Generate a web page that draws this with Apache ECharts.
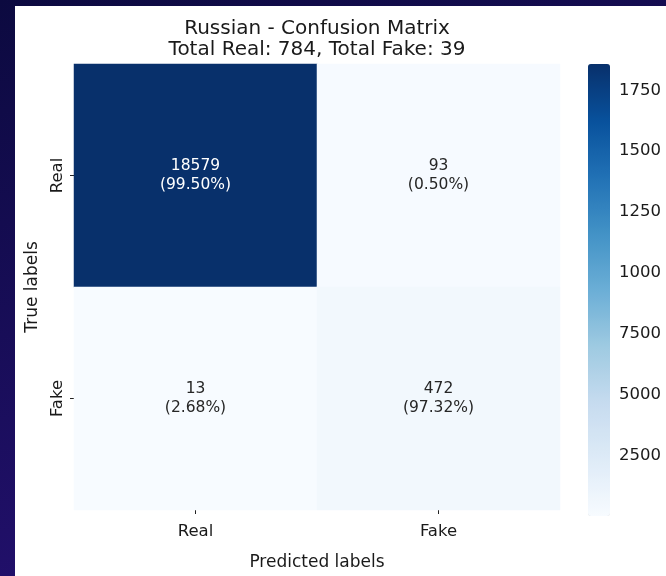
<!DOCTYPE html>
<html>
<head>
<meta charset="utf-8">
<script src="https://cdn.jsdelivr.net/npm/echarts@6/dist/echarts.min.js"></script>
<style>
  html, body { margin: 0; padding: 0; }
  #chart { width: 666px; height: 576px; }
</style>
</head>
<body>
<div id="chart"></div>
<script>
// Confusion matrix for the Russian subset
const titleLines = ['Russian - Confusion Matrix', 'Total Real: 784, Total Fake: 39'];
const predictedLabels = ['Real', 'Fake'];
const trueLabels = ['Real', 'Fake'];
const realRow = [18579, 93];
const fakeRow = [13, 472];
const colorbarTicks = [2500, 5000, 7500, 10000, 12500, 15000, 17500];
const colorbarTickLabels = ['2500', '5000', '7500', '1000', '1250', '1500', '1750'];
const blues = ['#f7fbff', '#deebf7', '#c6dbef', '#9ecae1', '#6baed6', '#4292c6', '#2171b5', '#08519c', '#08306b'];

const rows = [realRow, fakeRow];
const allValues = rows.flat();
const vMin = Math.min(...allValues);
const vMax = Math.max(...allValues);

const cells = [];
rows.forEach((row, r) => {
  const total = row.reduce((a, b) => a + b, 0);
  row.forEach((v, c) => {
    cells.push({
      value: [c, r, v],
      pct: (v / total * 100).toFixed(2),
      label: { color: (v - vMin) / (vMax - vMin) > 0.5 ? '#ffffff' : '#262626' }
    });
  });
});

const FONT = 'DejaVu Sans';
const INK = '#1a1a1a';
const chart = echarts.init(document.getElementById('chart'), null, { renderer: 'canvas' });

chart.setOption({
  backgroundColor: {
    type: 'linear', x: 0, y: 0, x2: 0.3, y2: 1,
    colorStops: [
      { offset: 0, color: '#0c0a40' },
      { offset: 1, color: '#23106e' }
    ]
  },
  animation: false,
  textStyle: { fontFamily: FONT },
  graphic: [
    { type: 'rect', left: 15, top: 6, shape: { width: 651, height: 570 }, style: { fill: '#ffffff' }, z: -10 },
    {
      type: 'text', x: 317, y: 18, z: 10,
      style: {
        text: titleLines.join('\n'), fill: INK,
        font: '20px "DejaVu Sans"', align: 'center', lineHeight: 21
      }
    }
  ],
  grid: [
    { left: 74, top: 64, width: 486, height: 452 },
    { left: 588, top: 64, width: 22, height: 452 }
  ],
  xAxis: [
    {
      type: 'category', gridIndex: 0, data: predictedLabels,
      name: 'Predicted labels', nameLocation: 'middle', nameGap: 44,
      nameTextStyle: { fontSize: 17, color: INK, fontFamily: FONT },
      axisLine: { show: false },
      axisTick: { show: true, alignWithLabel: true, length: 4, lineStyle: { color: '#222' } },
      axisLabel: { fontSize: 16.5, color: INK, margin: 13, fontFamily: FONT },
      splitLine: { show: false }
    },
    { type: 'value', gridIndex: 1, show: false, min: 0, max: 1 }
  ],
  yAxis: [
    {
      type: 'category', gridIndex: 0, data: trueLabels, inverse: true,
      name: 'True labels', nameLocation: 'middle', nameGap: 33, nameRotate: 90,
      nameTextStyle: { fontSize: 17, color: INK, fontFamily: FONT },
      axisLine: { show: false },
      axisTick: { show: true, alignWithLabel: true, length: 4, lineStyle: { color: '#222' } },
      axisLabel: { fontSize: 16.5, color: INK, rotate: 90, margin: 8, fontFamily: FONT },
      splitLine: { show: false }
    },
    {
      type: 'value', gridIndex: 1, position: 'right', min: vMin, max: vMax,
      axisLine: { show: false },
      splitLine: { show: false },
      axisTick: { show: true, length: 5, lineStyle: { color: '#222' }, customValues: colorbarTicks },
      axisLabel: {
        fontSize: 16.5, color: INK, margin: 9, fontFamily: FONT,
        customValues: colorbarTicks,
        formatter: v => colorbarTickLabels[colorbarTicks.indexOf(v)]
      }
    }
  ],
  visualMap: {
    type: 'continuous', seriesIndex: 0, min: vMin, max: vMax,
    inRange: { color: blues },
    left: 588, top: 64, itemWidth: 22, itemHeight: 452, padding: 0,
    calculable: false, showLabel: false, text: null, hoverLink: false
  },
  series: [
    {
      type: 'heatmap', xAxisIndex: 0, yAxisIndex: 0,
      data: cells,
      itemStyle: { borderWidth: 0 },
      emphasis: { disabled: true },
      label: {
        show: true, fontSize: 15.5, lineHeight: 19, fontFamily: FONT,
        formatter: p => p.data.value[2] + '\n(' + p.data.pct + '%)'
      }
    }
  ]
});
</script>
</body>
</html>
